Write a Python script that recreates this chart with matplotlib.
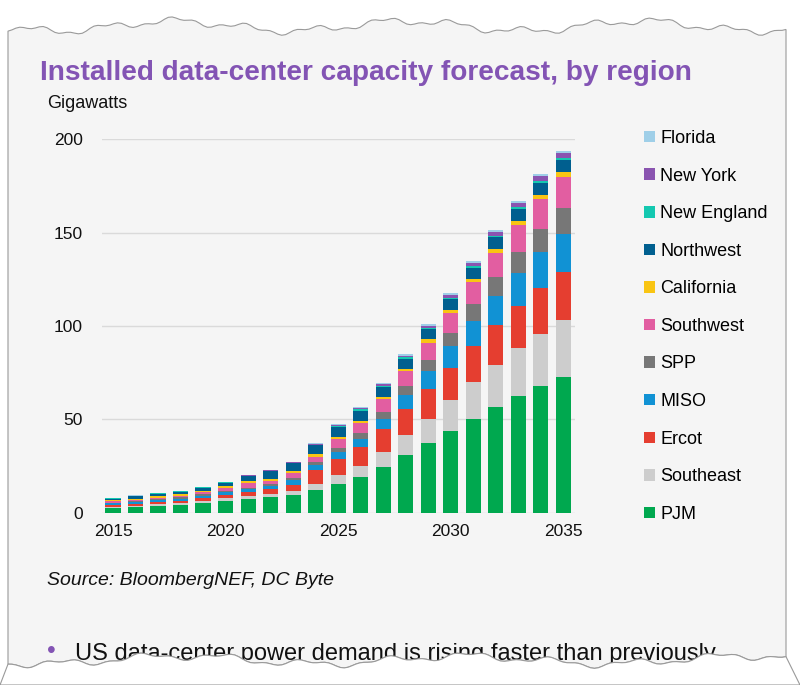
import numpy as np
import matplotlib
matplotlib.use("Agg")
import matplotlib.pyplot as plt
from matplotlib.patches import Polygon

# Data (GW per region)
years = list(range(2015, 2036))
regions = ["PJM", "Southeast", "Ercot", "MISO", "SPP", "Southwest",
           "California", "Northwest", "New England", "New York", "Florida"]
pjm = [2.7, 3.2, 3.7, 4.3, 5.2, 6.4, 7.5, 8.4, 9.6, 12.1, 15.5,
       18.9, 24.3, 30.7, 37.1, 43.6, 50.2, 56.6, 62.3, 67.7, 72.5]
southeast = [0.5, 0.6, 0.7, 0.7, 0.9, 1.3, 1.6, 1.6, 1.8, 3.3, 4.5,
             6.3, 8.4, 10.9, 13.3, 16.6, 19.8, 22.7, 25.7, 28.2, 30.5]
ercot = [1.0, 1.1, 1.2, 1.5, 1.9, 1.6, 1.8, 2.5, 3.6, 7.5, 8.9,
         10.2, 11.9, 13.8, 15.9, 17.5, 19.3, 21.1, 22.9, 24.6, 26.1]
miso = [0.8, 0.9, 1.0, 1.1, 1.1, 1.6, 1.6, 1.8, 2.5, 2.5, 3.4,
        4.2, 5.8, 7.6, 9.4, 11.4, 13.6, 15.7, 17.3, 19.0, 20.4]
spp = [0.4, 0.4, 0.5, 0.6, 0.7, 0.7, 0.9, 0.9, 1.1, 1.7, 2.2,
       2.9, 3.7, 4.9, 6.1, 7.3, 8.9, 10.2, 11.6, 12.6, 13.9]
southwest = [0.7, 0.8, 0.9, 1.0, 1.1, 1.4, 2.3, 1.9, 2.5, 2.9, 4.8,
             5.4, 6.6, 7.8, 9.3, 10.4, 11.6, 12.8, 14.1, 15.8, 16.4]
california = [0.5, 0.6, 0.7, 0.7, 0.9, 1.1, 1.1, 1.1, 1.0, 1.4, 1.1,
              1.2, 1.4, 1.4, 1.8, 2.0, 2.0, 2.3, 2.5, 2.1, 2.5]
northwest = [1.0, 1.2, 1.4, 1.4, 1.6, 2.0, 2.8, 3.9, 4.3, 4.9, 5.7,
             5.5, 5.0, 5.4, 5.3, 5.5, 5.9, 6.1, 6.3, 6.8, 6.8]
new_england = [0.2, 0.2, 0.2, 0.2, 0.2, 0.2, 0.2, 0.3, 0.2, 0.2, 0.5,
               0.8, 0.8, 0.7, 0.7, 0.9, 0.7, 0.7, 0.9, 0.9, 0.9]
new_york = [0.15, 0.2, 0.2, 0.2, 0.2, 0.2, 0.2, 0.3, 0.3, 0.3, 0.4,
            0.5, 0.9, 0.9, 1.1, 1.4, 1.8, 2.2, 2.1, 2.7, 2.9]
florida = [0.1, 0.1, 0.2, 0.1, 0.1, 0.1, 0.2, 0.2, 0.2, 0.3, 0.3,
           0.5, 0.7, 0.7, 0.9, 0.9, 0.8, 1.0, 1.1, 1.0, 1.0]

series = [pjm, southeast, ercot, miso, spp, southwest,
          california, northwest, new_england, new_york, florida]
colors = ["#00a84f", "#cdcdcd", "#e53e30", "#1192d4", "#777777", "#e25ea1",
          "#f9c513", "#005f8f", "#14c8b0", "#8a54b0", "#9fcfe8"]

PAPER = "#f5f5f5"
PURPLE = "#8354b4"
plt.rcParams["font.family"] = ["Liberation Sans", "DejaVu Sans"]

fig = plt.figure(figsize=(8.0, 6.85), dpi=100)
fig.patch.set_facecolor("white")

# torn paper background (wavy edges are just decoration)
W, H = 800, 685
xs = np.linspace(8, 786, 200)
top_edge = 26 + 5 * np.sin(xs / 37.0) + 3 * np.sin(xs / 11.0 + 1.3) + 1.5 * np.sin(xs / 4.0)
bot_edge = 660 + 4 * np.sin(xs / 45.0 + 0.7) + 3 * np.sin(xs / 13.0) + 1.5 * np.sin(xs / 5.0 + 2)
pts = [(x / W, 1 - y / H) for x, y in zip(xs, top_edge)]
pts += [(x / W, 1 - y / H) for x, y in zip(xs[::-1], bot_edge[::-1])]
fig.add_artist(Polygon(pts, closed=True, transform=fig.transFigure,
                       facecolor=PAPER, edgecolor="#9a9a9a", linewidth=0.8, zorder=0))

ax = fig.add_axes([102 / W, 1 - 512.7 / H, 473 / W, 373.4 / H])
ax.set_facecolor("none")

bottom = np.zeros(len(years))
for name, vals, c in zip(regions, series, colors):
    ax.bar(years, vals, bottom=bottom, width=0.67, color=c, label=name,
           linewidth=0, zorder=3)
    bottom += np.array(vals)

ax.set_xlim(2014.51, 2035.53)
ax.set_ylim(0, 200)
ax.set_yticks([0, 50, 100, 150, 200])
ax.set_xticks([2015, 2020, 2025, 2030, 2035])
ax.grid(axis="y", color="#dadada", linewidth=1.0, zorder=0)
for s in ax.spines.values():
    s.set_visible(False)
ax.tick_params(length=0, labelsize=12.5, colors="#111111")
ax.tick_params(axis="y", pad=14)
ax.tick_params(axis="x", pad=8)

handles, labels = ax.get_legend_handles_labels()
ax.legend(handles[::-1], labels[::-1], loc="upper left",
          bbox_to_anchor=(644 / W, 1 - 130 / H), bbox_transform=fig.transFigure,
          frameon=False, fontsize=13, handlelength=0.6, handleheight=0.6,
          handletextpad=0.3, labelspacing=1.14, borderpad=0, borderaxespad=0)

fig.text(40 / W, 1 - 80 / H, "Installed data-center capacity forecast, by region",
         color=PURPLE, fontsize=20.2, fontweight="bold", va="baseline")
fig.text(47 / W, 1 - 108 / H, "Gigawatts", fontsize=13, va="baseline", color="#111111")
fig.text(47 / W, 1 - 585 / H, "Source: BloombergNEF, DC Byte", fontsize=14,
         style="italic", va="baseline", color="#111111")

# bullet line, cut by the torn bottom edge
fig.text(47 / W, 1 - 658 / H, "\u2022", fontsize=18, color=PURPLE, va="baseline", zorder=1)
fig.text(75 / W, 1 - 660 / H, "US data-center power demand is rising faster than previously",
         fontsize=17, va="baseline", color="#111111", zorder=1)
under = [(x / W, 1 - y / H) for x, y in zip(xs, bot_edge)]
under += [(1.0, 0.0), (0.0, 0.0)]
fig.add_artist(Polygon(under, closed=True, transform=fig.transFigure,
                       facecolor="white", edgecolor="#9a9a9a", linewidth=0.8, zorder=2))

fig.savefig("out.png", dpi=100, facecolor="white")
